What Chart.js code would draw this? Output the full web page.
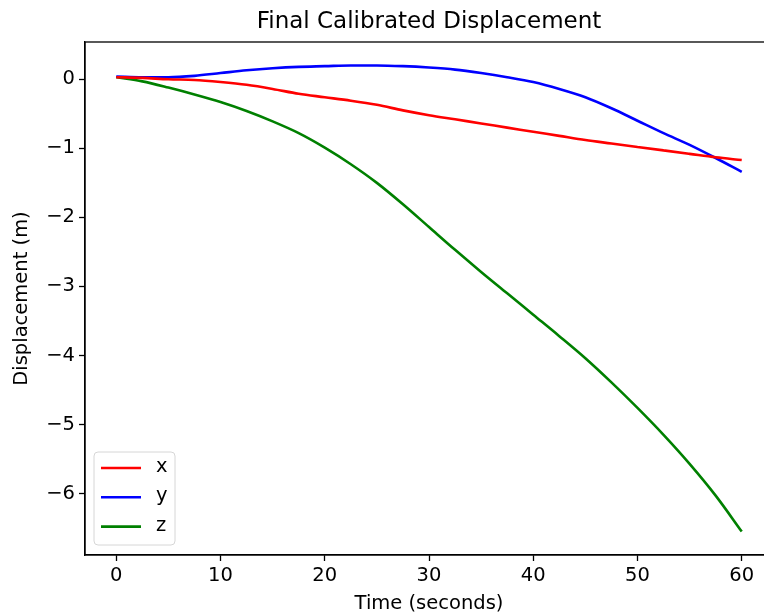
<!DOCTYPE html>
<html>
<head>
<meta charset="utf-8">
<script src="https://cdn.jsdelivr.net/npm/chart.js@4.4.1/dist/chart.umd.min.js"></script>
<style>
  html, body { margin: 0; padding: 0; background: #fff; overflow: hidden; }
  canvas { display: block; }
</style>
</head>
<body>
<canvas id="dispChart" width="790" height="616"></canvas>
<script>
// Data
const timeSec = [0, 2.5, 5, 7.5, 10, 12.5, 15, 17.5, 20, 22.5, 25, 27.5, 30,
                 32.5, 35, 37.5, 40, 42.5, 45, 47.5, 50, 52.5, 55, 57.5, 60];
const dispX = [0.03, 0.02, 0.0, -0.01, -0.04, -0.08, -0.14, -0.21, -0.26, -0.31, -0.37, -0.45, -0.52,
               -0.58, -0.64, -0.70, -0.76, -0.82, -0.88, -0.93, -0.98, -1.03, -1.08, -1.13, -1.17];
const dispY = [0.04, 0.03, 0.03, 0.05, 0.09, 0.13, 0.16, 0.18, 0.19, 0.20, 0.20, 0.19, 0.17,
               0.14, 0.09, 0.03, -0.04, -0.14, -0.26, -0.42, -0.60, -0.78, -0.95, -1.14, -1.34];
const dispZ = [0.03, -0.03, -0.12, -0.22, -0.33, -0.46, -0.61, -0.78, -0.99, -1.23, -1.50, -1.81, -2.14,
               -2.47, -2.79, -3.10, -3.41, -3.72, -4.04, -4.39, -4.76, -5.15, -5.57, -6.03, -6.55];
const seriesNames = ['x', 'y', 'z'];
const xTicks = [0, 10, 20, 30, 40, 50, 60];
const yTicks = [0, -1, -2, -3, -4, -5, -6];

const FONT = 'DejaVu Sans';
const colors = ['#ff0000', '#0000ff', '#008000'];

function toPoints(vals) {
    return timeSec.map((t, i) => ({ x: t, y: vals[i] }));
}

// title centred over the plot box, box frame, legend inside lower-left
const framePlugin = {
    id: 'frame',
    afterDraw(chart) {
        const ctx = chart.ctx;
        const a = chart.chartArea;
        ctx.save();
        ctx.strokeStyle = '#000';
        ctx.lineWidth = 1.3;
        ctx.strokeRect(a.left, a.top, a.right - a.left, a.bottom - a.top);

        ctx.fillStyle = '#000';
        ctx.font = '23px "' + FONT + '"';
        ctx.textAlign = 'center';
        ctx.textBaseline = 'alphabetic';
        ctx.fillText('Final Calibrated Displacement', (a.left + a.right) / 2, 28);

        // legend
        const bx = a.left + 9, by = a.bottom - 103, bw = 81, bh = 93;
        ctx.beginPath();
        ctx.roundRect(bx, by, bw, bh, 4);
        ctx.fillStyle = 'rgba(255,255,255,0.8)';
        ctx.fill();
        ctx.strokeStyle = '#d6d6d6';
        ctx.lineWidth = 1;
        ctx.stroke();
        ctx.font = '19.5px "' + FONT + '"';
        ctx.textAlign = 'left';
        ctx.textBaseline = 'middle';
        seriesNames.forEach((name, i) => {
            const ly = by + 16 + i * 29.3;
            ctx.strokeStyle = colors[i];
            ctx.lineWidth = 2.6;
            ctx.beginPath();
            ctx.moveTo(bx + 7, ly);
            ctx.lineTo(bx + 47, ly);
            ctx.stroke();
            ctx.fillStyle = '#000';
            ctx.fillText(name, bx + 62, ly - 1);
        });
        ctx.restore();
    }
};

const ctx = document.getElementById('dispChart').getContext('2d');
const dispChart = new Chart(ctx, {
    type: 'line',
    data: {
        datasets: [dispX, dispY, dispZ].map((vals, i) => ({
            label: seriesNames[i],
            data: toPoints(vals),
            borderColor: colors[i],
            borderWidth: 2.6,
            pointRadius: 0,
            fill: false,
            cubicInterpolationMode: 'monotone'
        }))
    },
    options: {
        responsive: false,
        animation: false,
        layout: { padding: { top: 42, left: 0, right: 17, bottom: 0 } },
        plugins: {
            legend: { display: false },
            title: { display: false },
            tooltip: { enabled: false }
        },
        scales: {
            x: {
                type: 'linear',
                min: -3,
                max: 63,
                afterBuildTicks: s => { s.ticks = xTicks.map(v => ({ value: v })); },
                afterFit: s => { s.height = 61; },
                grid: { display: true, drawOnChartArea: false, drawTicks: true, tickLength: 6, tickColor: '#000', tickWidth: 1.3 },
                border: { display: true, color: '#000', width: 1.3 },
                ticks: { color: '#000', font: { family: FONT, size: 19.5 }, padding: 3, maxRotation: 0 },
                title: { display: true, text: 'Time (seconds)', color: '#000', font: { family: FONT, size: 19.5 }, padding: { top: 0, bottom: 0 } }
            },
            y: {
                type: 'linear',
                min: -6.89,
                max: 0.54,
                afterBuildTicks: s => { s.ticks = yTicks.map(v => ({ value: v })); },
                afterFit: s => { s.width = 85; },
                grid: { display: true, drawOnChartArea: false, drawTicks: true, tickLength: 6, tickColor: '#000', tickWidth: 1.3 },
                border: { display: true, color: '#000', width: 1.3 },
                ticks: {
                    color: '#000',
                    font: { family: FONT, size: 19.5 },
                    padding: 4,
                    callback: v => String(v).replace('-', '\u2212')
                },
                title: { display: true, text: 'Displacement (m)', color: '#000', font: { family: FONT, size: 19.5 }, padding: { top: 10, bottom: 0 } }
            }
        }
    },
    plugins: [framePlugin]
});
</script>
</body>
</html>
